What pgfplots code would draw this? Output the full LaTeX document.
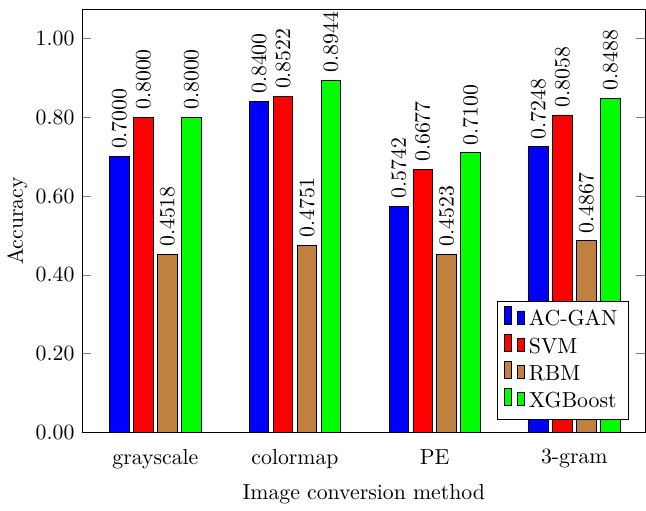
\documentclass[border=0pt]{standalone}
\usepackage{pgfplots}
\pgfplotsset{compat=1.18}
\begin{document}
\begin{tikzpicture}
\begin{axis}[
  scale only axis,
  width=259pt, height=194.5pt,
  ybar=2pt,
  bar width=9pt,
  ymin=0, ymax=1.074,
  xmin=-0.525, xmax=3.51,
  xtick={0,1,2,3},
  xticklabels={grayscale,colormap,PE,3-gram},
  x tick style={draw=none},
  ytick={0,0.2,0.4,0.6,0.8,1.0},
  yticklabel style={/pgf/number format/fixed,/pgf/number format/zerofill,/pgf/number format/precision=2},
  ylabel={Accuracy},
  ylabel shift=-3pt,
  xlabel={Image conversion method},
  nodes near coords,
  every node near coord/.append style={rotate=90,anchor=west,/pgf/number format/fixed,/pgf/number format/zerofill,/pgf/number format/precision=4},
  legend pos=south east,
  legend cell align=left,
]
\addplot[fill=blue] coordinates {(0,0.7000) (1,0.8400) (2,0.5742) (3,0.7248)};
\addplot[fill=red] coordinates {(0,0.8000) (1,0.8522) (2,0.6677) (3,0.8058)};
\addplot[fill=brown] coordinates {(0,0.4518) (1,0.4751) (2,0.4523) (3,0.4867)};
\addplot[fill=green] coordinates {(0,0.8000) (1,0.8944) (2,0.7100) (3,0.8488)};
\legend{AC-GAN,SVM,RBM,XGBoost}
\end{axis}
\end{tikzpicture}
\end{document}
